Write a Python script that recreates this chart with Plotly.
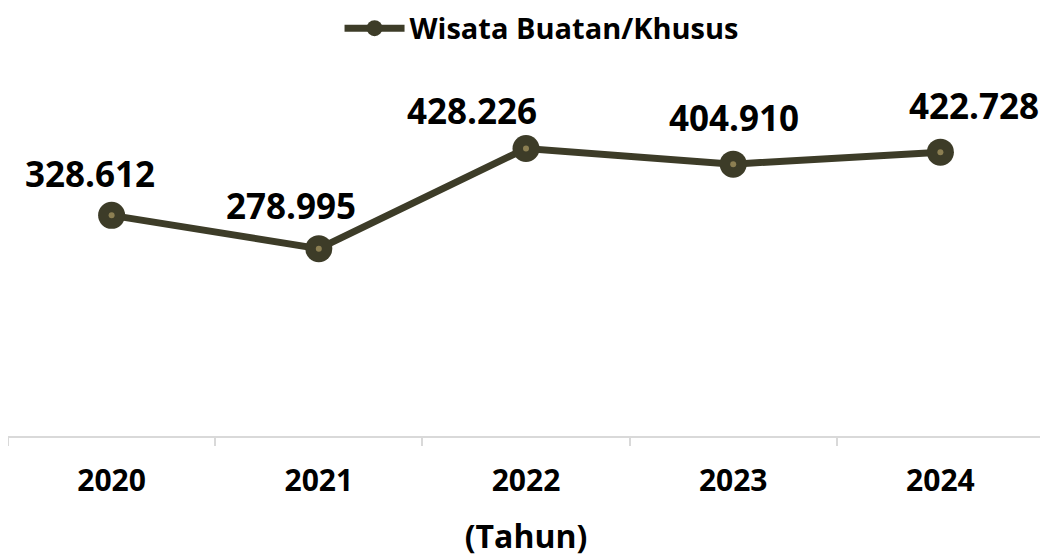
import plotly.graph_objects as go

years = ["2020", "2021", "2022", "2023", "2024"]
values = [328612, 278995, 428226, 404910, 422728]
labels = ["328.612", "278.995", "428.226", "404.910", "422.728"]
series_name = "Wisata Buatan/Khusus"

label_xshift = [-22, -28, -54, 1, 34]
label_yshift = [42, 43, 38, 47, 47]

FONT = "Open Sans"
DARK = "#3d3c28"

fig = go.Figure()
fig.add_trace(go.Scatter(
    x=years, y=values, mode="lines+markers", name=series_name,
    line=dict(color=DARK, width=7),
    marker=dict(size=27, color=DARK),
))
fig.add_trace(go.Scatter(
    x=years, y=values, mode="markers", showlegend=False, hoverinfo="skip",
    marker=dict(size=6, color="#8c7f52"),
))

for i, (v, t, dx, dy) in enumerate(zip(values, labels, label_xshift, label_yshift)):
    fig.add_annotation(x=i, y=v, xref="x", yref="y", text=t, showarrow=False,
                       xshift=dx, yshift=dy,
                       font=dict(family=FONT, size=35, color="#000000", weight="bold"))

# page has an 8px body margin, so figure is 1040x549 placed at (8, 8)
fig.update_layout(
    width=1040, height=549,
    margin=dict(l=0, r=4, t=52, b=121, autoexpand=False),
    paper_bgcolor="white", plot_bgcolor="white",
    showlegend=True,
    legend=dict(orientation="h", x=0.515, xanchor="center", yref="container", y=0.963,
                yanchor="middle", font=dict(family=FONT, size=29, color="#000000", weight="bold"),
                itemwidth=60),
    font=dict(family=FONT),
)
fig.update_xaxes(
    type="category", range=[-0.5, 4.5], automargin=False,
    showline=True, linecolor="#d9d9d9", linewidth=2,
    showgrid=False, zeroline=False,
    ticks="outside", tickson="boundaries", ticklen=8, tickcolor="#d9d9d9", tickwidth=2,
    tickfont=dict(family=FONT, size=30, color="#000000", weight="bold"),
    ticklabelstandoff=17,
    title=dict(text="(Tahun)", font=dict(family=FONT, size=32, color="#000000", weight="bold"), standoff=28),
)
fig.update_yaxes(range=[0, 560000], visible=False)

fig.write_html("out.html")
